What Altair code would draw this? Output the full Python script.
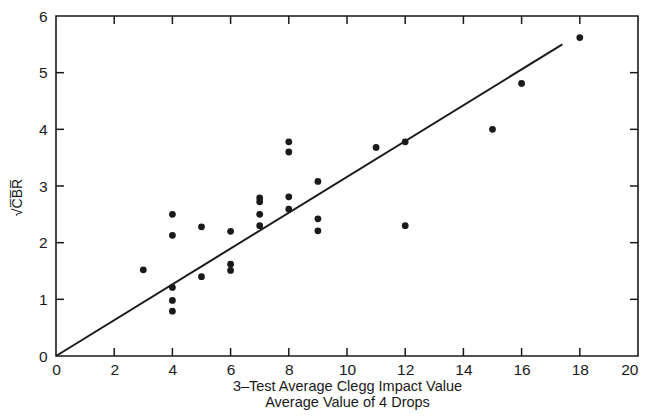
import altair as alt
import pandas as pd

# Data
pt_x = [3, 4, 4, 4, 4, 4, 5, 5, 6, 6, 6, 7, 7, 7, 7, 8, 8, 8, 8, 9, 9, 9, 11, 12, 12, 15, 16, 18]
pt_y = [1.52, 2.50, 2.13, 1.21, 0.98, 0.79, 2.28, 1.40, 2.20, 1.62, 1.51, 2.79, 2.72, 2.50, 2.30,
        3.78, 3.60, 2.81, 2.59, 3.08, 2.42, 2.21, 3.68, 3.78, 2.30, 4.00, 4.81, 5.62]
line_x = [0, 17.4]
line_y = [0, 5.50]
x_ticks = [2, 4, 6, 8, 10, 12, 14, 16, 18]
y_ticks = [1, 2, 3, 4, 5]
x_labels = list(range(0, 21, 2))
y_labels = list(range(0, 7))

W, H = 582, 340
FONT = "Liberation Sans"
INK = "#1a1a1a"

pts = pd.DataFrame({"x": pt_x, "y": pt_y})
ln = pd.DataFrame({"x": line_x, "y": line_y})
xt = pd.DataFrame({"x": x_ticks})
yt = pd.DataFrame({"y": y_ticks})

xscale = alt.Scale(domain=[0, 20], nice=False, zero=True)
yscale = alt.Scale(domain=[0, 6], nice=False, zero=True)

xaxis = alt.Axis(values=x_labels, ticks=False, domain=False, grid=False,
                 labelFont=FONT, labelFontSize=15.5, labelColor=INK, labelPadding=6,
                 labelFlush=False,
                 labelAlign=alt.ConditionalAxisLabelAlign(
                     condition={"test": "datum.value == 20", "value": "right"}, value="center"),
                 title=["3\u2013Test Average Clegg Impact Value", "Average Value of 4 Drops"],
                 titleFont=FONT, titleFontSize=14.5, titleFontWeight="normal", titleColor=INK,
                 titleLineHeight=16, titleY=23, titleBaseline="top")
yaxis = alt.Axis(values=y_labels, ticks=False, domain=False, grid=False,
                 labelFont=FONT, labelFontSize=15.5, labelColor=INK, labelPadding=9,
                 labelFlush=False,
                 title="\u221aC\u0305B\u0305R\u0305", titleFont=FONT, titleFontSize=14,
                 titleFontWeight="normal", titleColor=INK, titleX=-32, titleY=181)

X = alt.X("x:Q", scale=xscale, axis=xaxis)
Y = alt.Y("y:Q", scale=yscale, axis=yaxis)

points = alt.Chart(pts).mark_circle(size=46, color=INK, opacity=1).encode(x=X, y=Y)

fit = alt.Chart(ln).mark_line(color=INK, strokeWidth=2).encode(x=X, y=Y)

tick_style = dict(color=INK, strokeWidth=1.5)
bot = alt.Chart(xt).mark_rule(**tick_style).encode(
    x=X, y=alt.value(H), y2=alt.value(H - 8))
top = alt.Chart(xt).mark_rule(**tick_style).encode(
    x=X, y=alt.value(0), y2=alt.value(8))
left = alt.Chart(yt).mark_rule(**tick_style).encode(
    y=Y, x=alt.value(0), x2=alt.value(8))
right = alt.Chart(yt).mark_rule(**tick_style).encode(
    y=Y, x=alt.value(W), x2=alt.value(W - 8))

chart = alt.layer(points, fit, bot, top, left, right).properties(
    width=W, height=H,
    autosize=alt.AutoSizeParams(type="none"),
    padding={"left": 48, "top": 8, "right": 2, "bottom": 56},
    background="white",
).configure_view(stroke=INK, strokeWidth=1.6)

chart.save("out.html", embed_options={"renderer": "svg", "actions": False})
